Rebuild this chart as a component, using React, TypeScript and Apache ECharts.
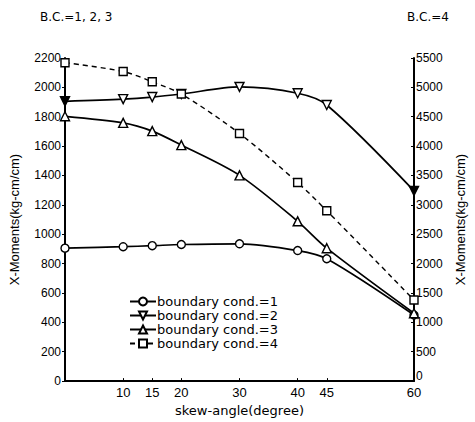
import React, { useEffect, useRef } from "react";
import * as echarts from "echarts";

const angles = [0, 10, 15, 20, 30, 40, 45, 60];
const xTickLabels = [10, 15, 20, 30, 40, 45, 60];
const bc1 = [905, 915, 922, 930, 935, 889, 833, 450];
const bc2 = [1905, 1920, 1934, 1955, 2003, 1960, 1880, 1295];
const bc3 = [1803, 1758, 1702, 1607, 1401, 1088, 905, 462];
const bc4 = [5420, 5270, 5095, 4887, 4215, 3380, 2900, 1380];
const seriesNames = [
  "boundary cond.=1",
  "boundary cond.=2",
  "boundary cond.=3",
  "boundary cond.=4",
];

const FONT = "Liberation Sans, Arial, sans-serif";
const WIDE = "DejaVu Sans, sans-serif";

export default function App() {
  const ref = useRef<HTMLDivElement>(null);
  useEffect(() => {
    if (!ref.current) return;
    const chart = echarts.init(ref.current, null, { renderer: "svg" });
    const pair = (vals: number[]) => angles.map((a, i) => [a, vals[i]]);
    const baseLine = { color: "#000", width: 1.7 };
    const baseItem = { color: "#fff", borderColor: "#000", borderWidth: 1.4 };
    chart.setOption({
      animation: false,
      backgroundColor: "#fff",
      textStyle: { fontFamily: FONT, color: "#000" },
      grid: { left: 60, right: 55, top: 58, bottom: 38 },
      legend: {
        orient: "vertical",
        left: 124,
        top: 290,
        itemGap: 1,
        itemWidth: 26,
        itemHeight: 10,
        textStyle: { fontFamily: WIDE, fontSize: 13, color: "#000", padding: [0, 0, 0, -4] },
        data: seriesNames,
      },
      graphic: [
        {
          type: "text",
          left: 40,
          top: 11,
          style: { text: "B.C.=1, 2, 3", font: "12px " + WIDE, fill: "#000" },
        },
        {
          type: "text",
          left: 407,
          top: 11,
          style: { text: "B.C.=4", font: "12px " + WIDE, fill: "#000" },
        },
      ],
      xAxis: {
        type: "value",
        min: 0,
        max: 60,
        name: "skew-angle(degree)",
        nameLocation: "middle",
        nameGap: 22,
        nameTextStyle: { fontSize: 13, color: "#000", fontFamily: WIDE },
        axisLine: { show: true, lineStyle: { color: "#000", width: 2 } },
        axisTick: { show: true, inside: true, length: 3, customValues: xTickLabels, lineStyle: { color: "#000" } },
        axisLabel: { customValues: xTickLabels, fontSize: 13, color: "#000", margin: 5, fontFamily: FONT },
        splitLine: { show: false },
      },
      yAxis: [
        {
          type: "value",
          min: 0,
          max: 2200,
          interval: 200,
          name: "X-Moments(kg-cm/cm)",
          nameLocation: "middle",
          nameGap: 44,
          nameRotate: 90,
          nameTextStyle: { fontSize: 13, color: "#000", fontFamily: FONT },
          axisLine: { show: true, lineStyle: { color: "#000", width: 2 } },
          axisTick: { show: true, length: 3, lineStyle: { color: "#000" } },
          axisLabel: {
            fontSize: 12,
            color: "#000",
            margin: 4,
            fontFamily: FONT,
            formatter: (v: number) => String(v),
          },
          splitLine: { show: false },
        },
        {
          type: "value",
          min: 0,
          max: 5500,
          interval: 500,
          position: "right",
          name: "X-Moments(kg-cm/cm)",
          nameLocation: "middle",
          nameGap: 40,
          nameRotate: 90,
          nameTextStyle: { fontSize: 13, color: "#000", fontFamily: FONT },
          axisLine: { show: true, lineStyle: { color: "#000", width: 2 } },
          axisTick: { show: true, inside: true, length: 3, lineStyle: { color: "#000" } },
          axisLabel: {
            fontSize: 12,
            color: "#000",
            margin: 2,
            fontFamily: FONT,
            formatter: (v: number) => (v === 0 ? "{z|0}" : String(v)),
            rich: { z: { fontSize: 12, fontFamily: FONT, color: "#000", padding: [0, 0, 10, 0] } },
          },
          splitLine: { show: false },
        },
      ],
      series: [
        {
          name: seriesNames[0],
          type: "line",
          yAxisIndex: 0,
          data: pair(bc1),
          smooth: 0.3,
          symbol: "circle",
          symbolSize: 8,
          lineStyle: baseLine,
          itemStyle: baseItem,
        },
        {
          name: seriesNames[1],
          type: "line",
          yAxisIndex: 0,
          data: pair(bc2).map((d, i) =>
            i === 0 || i === angles.length - 1
              ? { value: d, itemStyle: { color: "#000" } }
              : d
          ),
          smooth: 0.3,
          symbol: "triangle",
          symbolRotate: 180,
          symbolSize: 9,
          lineStyle: baseLine,
          itemStyle: baseItem,
        },
        {
          name: seriesNames[2],
          type: "line",
          yAxisIndex: 0,
          data: pair(bc3),
          smooth: 0.3,
          symbol: "triangle",
          symbolSize: 9,
          lineStyle: baseLine,
          itemStyle: baseItem,
        },
        {
          name: seriesNames[3],
          type: "line",
          yAxisIndex: 1,
          data: pair(bc4),
          smooth: 0.3,
          symbol: "rect",
          symbolSize: 8,
          lineStyle: { color: "#000", width: 1.4, type: [5, 4] },
          itemStyle: baseItem,
        },
      ],
    });
    return () => chart.dispose();
  }, []);
  return (
    <div
      ref={ref}
      style={{ position: "absolute", left: 0, top: 0, width: 475, height: 422 }}
    />
  );
}
